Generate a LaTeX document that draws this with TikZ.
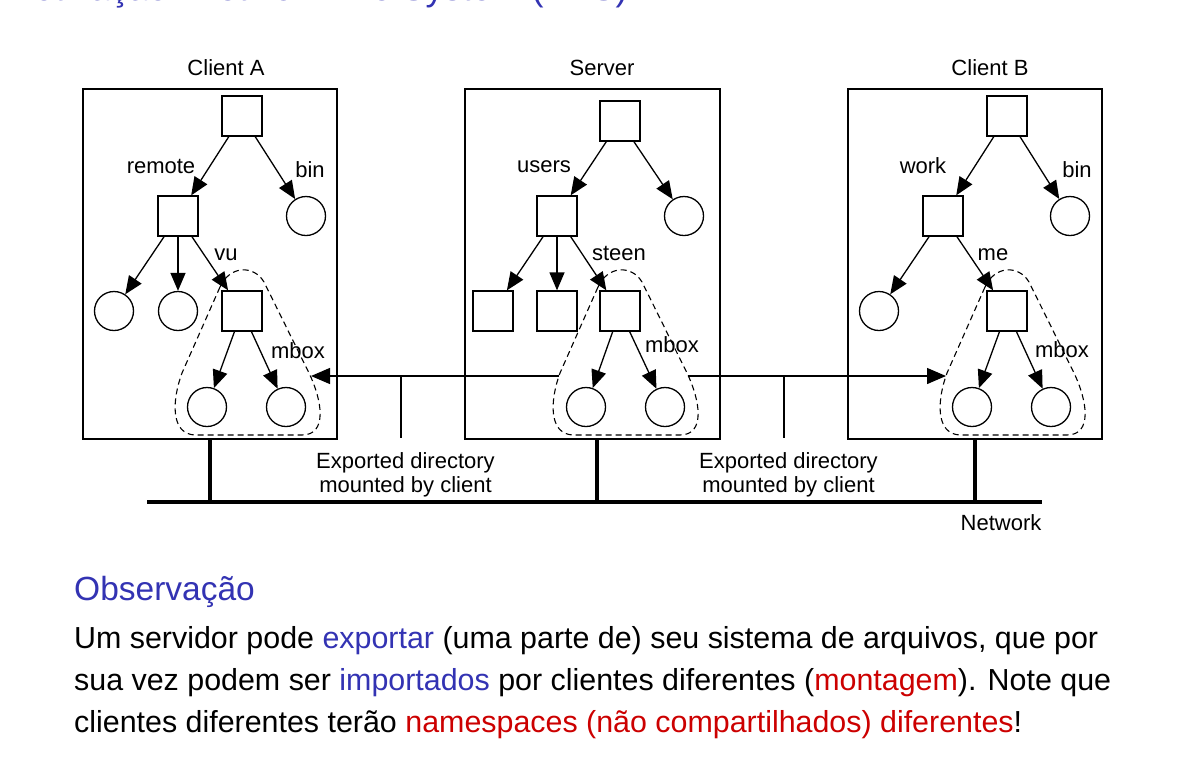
\documentclass[tikz,border=0pt]{standalone}
\usepackage{fontspec}
\setmainfont{Liberation Sans}
\usetikzlibrary{arrows.meta}
\definecolor{sblue}{RGB}{51,51,179}
\definecolor{ared}{RGB}{204,0,0}
\newcommand\mboxoutline[1]{%
  \draw[dashline] ({#1-22},287) .. controls ({#1-12},265) and ({#1+12},265) .. ({#1+22},282)
    -- ({#1+67},373) .. controls ({#1+80},400) and ({#1+86},435) .. ({#1+60},435)
    -- ({#1-46},435) .. controls ({#1-72},435) and ({#1-70},400) .. ({#1-60},373) -- cycle;}
\begin{document}
\begin{tikzpicture}[x=1pt,y=-1pt,
  dirnode/.style={draw,minimum size=40pt,inner sep=0pt,line width=1.3pt},
  filnode/.style={draw,circle,minimum size=39pt,inner sep=0pt,line width=1.3pt},
  hostbox/.style={draw,line width=1.3pt,inner sep=0pt,minimum height=350pt},
  tarrow/.style={line width=1.3pt,-{Triangle[length=18pt,width=15pt]}},
  harrow/.style={line width=1.3pt,-{Triangle[length=19pt,width=16pt]}},
  dashline/.style={line width=1.1pt,dash pattern=on 6pt off 4pt},
  lbl/.style={font=\fontsize{22}{25}\selectfont,anchor=base,inner sep=0pt},
  netline/.style={line width=4pt},
  stubline/.style={line width=3.5pt},
  ticklne/.style={line width=1.3pt},
  bodytext/.style={anchor=base west,inner sep=0pt,font=\fontsize{30.4}{36}\selectfont}
]
\useasboundingbox (0,0) rectangle (1183,772);
\begin{scope}
\clip (0,0) rectangle (1183,772);
\node[anchor=base west,inner sep=0pt,text=sblue,font=\fontsize{36}{40}\selectfont] (title) at (4,0.3) {Motivação: Network File System (NFS)};
\end{scope}

% host boxes
\node[hostbox,minimum width=254pt] (boxA) at (210,264) {};
\node[hostbox,minimum width=255pt] (boxS) at (592.5,264) {};
\node[hostbox,minimum width=254pt] (boxB) at (975,264) {};
\node[lbl] (tA) at (226,75) {Client A};
\node[lbl] (tS) at (602,75) {Server};
\node[lbl] (tB) at (990,75) {Client B};

% Client A tree
\node[dirnode] (aR) at (242,116) {};
\node[dirnode] (aRem) at (178,216) {};
\node[filnode] (aBin) at (306,216) {};
\node[filnode] (aC1) at (114,311) {};
\node[filnode] (aC2) at (178,311) {};
\node[dirnode] (aVu) at (242,311) {};
\node[filnode] (aM1) at (207,407) {};
\node[filnode] (aM2) at (286,407) {};
\draw[tarrow] (aR) -- (aRem);
\draw[tarrow] (aR) -- (aBin);
\draw[tarrow] (aRem) -- (aC1);
\draw[tarrow] (aRem) -- (aC2);
\draw[tarrow] (aRem) -- (aVu);
\draw[tarrow] (aVu) -- (aM1);
\draw[tarrow] (aVu) -- (aM2);
\node[lbl] (lRemote) at (161,173) {remote};
\node[lbl] (lBinA) at (310,177) {bin};
\node[lbl] (lVu) at (226,260) {vu};
\node[lbl] (lMboxA) at (298,358) {mbox};
\mboxoutline{242}

% Server tree
\node[dirnode] (sR) at (620,121) {};
\node[dirnode] (sUsers) at (557,216) {};
\node[filnode] (sC) at (684,216) {};
\node[dirnode] (sD1) at (493,311) {};
\node[dirnode] (sD2) at (557,311) {};
\node[dirnode] (sSteen) at (620,311) {};
\node[filnode] (sM1) at (586,407) {};
\node[filnode] (sM2) at (665,407) {};
\draw[tarrow] (sR) -- (sUsers);
\draw[tarrow] (sR) -- (sC);
\draw[tarrow] (sUsers) -- (sD1);
\draw[tarrow] (sUsers) -- (sD2);
\draw[tarrow] (sUsers) -- (sSteen);
\draw[tarrow] (sSteen) -- (sM1);
\draw[tarrow] (sSteen) -- (sM2);
\node[lbl] (lUsers) at (544,172) {users};
\node[lbl] (lSteen) at (619,260) {steen};
\node[lbl] (lMboxS) at (672,352) {mbox};
\mboxoutline{620}

% Client B tree
\node[dirnode] (bR) at (1007,116) {};
\node[dirnode] (bWork) at (943,216) {};
\node[filnode] (bBin) at (1070,216) {};
\node[filnode] (bC1) at (879,311) {};
\node[dirnode] (bMe) at (1007,311) {};
\node[filnode] (bM1) at (972,407) {};
\node[filnode] (bM2) at (1051,407) {};
\draw[tarrow] (bR) -- (bWork);
\draw[tarrow] (bR) -- (bBin);
\draw[tarrow] (bWork) -- (bC1);
\draw[tarrow] (bWork) -- (bMe);
\draw[tarrow] (bMe) -- (bM1);
\draw[tarrow] (bMe) -- (bM2);
\node[lbl] (lWork) at (923,173) {work};
\node[lbl] (lBinB) at (1077,177) {bin};
\node[lbl] (lMe) at (993,260) {me};
\node[lbl] (lMboxB) at (1062,357) {mbox};
\mboxoutline{1007}

% mount arrows
\coordinate (sLeft) at (559,376);
\coordinate (aTip) at (311,376);
\coordinate (sRight) at (688,376);
\coordinate (bTip) at (946,376);
\draw[harrow] (sLeft) -- (aTip);
\draw[harrow] (sRight) -- (bTip);
\coordinate (t1a) at (401,376);
\coordinate (t1b) at (401,438);
\coordinate (t2a) at (784,376);
\coordinate (t2b) at (784,438);
\draw[ticklne] (t1a) -- (t1b);
\draw[ticklne] (t2a) -- (t2b);
\node[lbl] (exp1) at (405.5,468) {Exported directory};
\node[lbl] (mnt1) at (405.5,492) {mounted by client};
\node[lbl] (exp2) at (788.5,468) {Exported directory};
\node[lbl] (mnt2) at (788.5,492) {mounted by client};

% network
\coordinate (netL) at (147,502);
\coordinate (netR) at (1042,502);
\draw[netline] (netL) -- (netR);
\draw[stubline] (boxA.south) -- (boxA.south |- netL);
\draw[stubline] ([xshift=4.5pt]boxS.south) -- ([xshift=4.5pt]boxS.south |- netL);
\draw[stubline] (boxB.south) -- (boxB.south |- netL);
\node[lbl] (lNet) at (1001,530) {Network};

% text
\node[anchor=base west,inner sep=0pt,text=sblue,font=\fontsize{33.5}{36}\selectfont] (obs) at (74,600) {Observação};
\node[bodytext] (line1) at (74,648) {Um servidor pode \textcolor{sblue}{exportar} (uma parte de) seu sistema de arquivos, que por};
\node[bodytext] (line2) at (74,690) {sua vez podem ser \textcolor{sblue}{importados} por clientes diferentes (\textcolor{ared}{montagem}). Note que};
\node[bodytext] (line3) at (74,732) {clientes diferentes terão \textcolor{ared}{namespaces (não compartilhados) diferentes}!};
\end{tikzpicture}
\end{document}
